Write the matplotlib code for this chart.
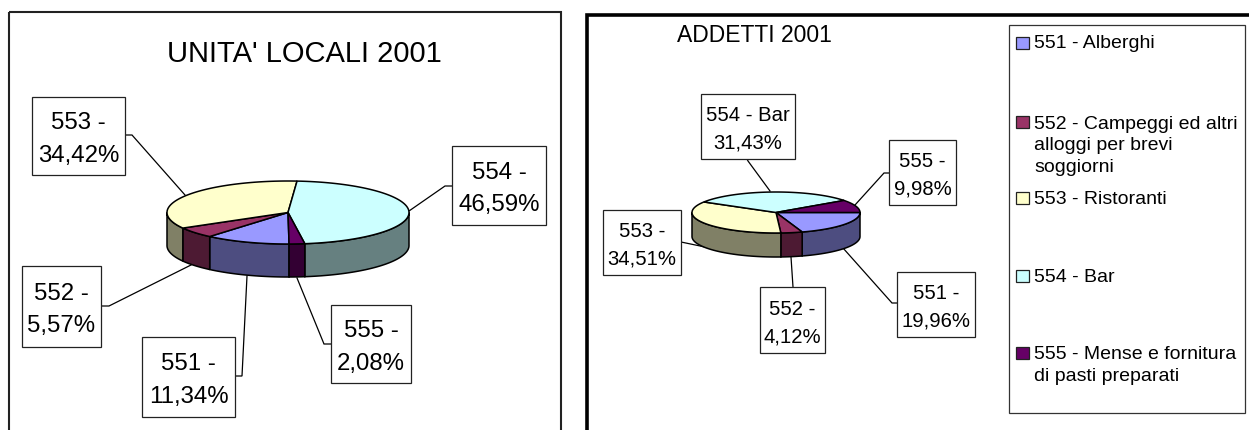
import numpy as np
import matplotlib
matplotlib.use('Agg')
import matplotlib.pyplot as plt
from matplotlib.patches import Polygon, Rectangle

plt.rcParams['font.family'] = ['Liberation Sans', 'DejaVu Sans']

codes = ['551', '552', '553', '554', '555']
unita_values = [11.34, 5.57, 34.42, 46.59, 2.08]
addetti_values = [19.96, 4.12, 34.51, 31.43, 9.98]
legend_labels = ['551 - Alberghi',
                 '552 - Campeggi ed altri\nalloggi per brevi\nsoggiorni',
                 '553 - Ristoranti',
                 '554 - Bar',
                 '555 - Mense e fornitura\ndi pasti preparati']
unita_labels = ['551 -\n11,34%', '552 -\n5,57%', '553 -\n34,42%', '554 -\n46,59%', '555 -\n2,08%']
addetti_labels = ['551 -\n19,96%', '552 -\n4,12%', '553 -\n34,51%', '554 - Bar\n31,43%', '555 -\n9,98%']

top_colors = ['#9999FF', '#993366', '#FFFFCC', '#CCFFFF', '#660066']
side_colors = ['#4D4D80', '#4D1A33', '#808066', '#668080', '#330033']

W, H = 1249, 430
fig = plt.figure(figsize=(W / 100, H / 100), dpi=100)
ax = fig.add_axes([0, 0, 1, 1])
ax.set_xlim(0, W)
ax.set_ylim(H, 0)
ax.axis('off')


def pie3d(values, cx, cy, rx, ry, depth, start):
    # angoli in senso orario dall'alto
    vals = np.array(values, dtype=float)
    edges = start + np.concatenate([[0], np.cumsum(vals) / vals.sum() * 360])
    pos = lambda a: (cx + rx * np.sin(np.radians(a)), cy - ry * np.cos(np.radians(a)))
    for i in range(len(vals)):
        a0, a1 = edges[i], edges[i + 1]
        # parte visibile del bordo: 90-270 (anche dopo un giro)
        for off in (0, 360):
            lo, hi = max(a0, 90 + off), min(a1, 270 + off)
            if hi <= lo:
                continue
            t = np.linspace(lo, hi, 60)
            x, y = pos(t)
            pts = np.r_[np.c_[x, y], np.c_[x[::-1], y[::-1] + depth]]
            ax.add_patch(Polygon(pts, closed=True, fc=side_colors[i], ec='black', lw=1.1, zorder=2))
    for i in range(len(vals)):
        t = np.linspace(edges[i], edges[i + 1], 80)
        x, y = pos(t)
        pts = np.r_[[[cx, cy]], np.c_[x, y]]
        ax.add_patch(Polygon(pts, closed=True, fc=top_colors[i], ec='black', lw=1.1, zorder=3))


def box_label(text, x0, y0, x1, y1, leader, size, spacing=1.55, shift=3):
    ax.plot(*zip(*leader), color='black', lw=0.9, zorder=1, solid_joinstyle='miter')
    ax.add_patch(Rectangle((x0, y0), x1 - x0, y1 - y0, fc='white', ec='#222222', lw=0.9, zorder=4))
    ax.text((x0 + x1) / 2, (y0 + y1) / 2 + shift, text, ha='center', va='center', fontsize=size,
            linespacing=spacing, color='black', zorder=5)


# cornici
ax.add_patch(Rectangle((9, 11.5), 552, 440, fc='none', ec='#222222', lw=1.5, clip_on=True))
ax.plot([1249, 587.5, 587.5], [15, 15, 430], color='black', lw=2.6, solid_joinstyle='miter')

# grafico sinistro
ax.text(304, 54, "UNITA' LOCALI 2001", ha='center', va='center', fontsize=21)
pie3d(unita_values, 288, 212.5, 121, 31.5, 33, 179.5)
size_l = 17.3
box_label(unita_labels[2], 32, 97, 125, 175, [(125, 135), (132, 135), (185, 195)], size_l, 1.63, 3.5)
box_label(unita_labels[3], 452, 146, 546, 225, [(452, 186), (445, 186), (409, 211)], size_l, 1.63, 3.5)
box_label(unita_labels[1], 22, 266, 101, 347, [(101, 306), (109, 306), (191, 265)], size_l, 1.63, 3.5)
box_label(unita_labels[0], 142, 337, 235, 417, [(235, 376), (242, 376), (247, 276)], size_l, 1.63, 3.5)
box_label(unita_labels[4], 331, 305, 411, 383, [(331, 344), (324, 344), (297, 278)], size_l, 1.63, 3.5)

# grafico destro
ax.text(677, 36, "ADDETTI 2001", ha='left', va='center', fontsize=16.5)
pie3d(addetti_values, 776, 212.5, 84, 20.5, 24, 90)
size_r = 14.6
box_label(addetti_labels[3], 701, 94, 795, 159, [(747, 159), (748, 161), (770, 191)], size_r)
box_label(addetti_labels[2], 603, 210, 681, 275, [(681, 242), (705, 247)], size_r)
box_label(addetti_labels[1], 760, 287, 825, 353, [(793, 287), (791, 257)], size_r)
box_label(addetti_labels[0], 897, 272, 975, 337, [(897, 303), (892, 303), (843, 248)], size_r)
box_label(addetti_labels[4], 889, 140, 956, 205, [(889, 173), (884, 173), (855, 205)], size_r)

# legenda
ax.add_patch(Rectangle((1009, 24.5), 236, 388, fc='white', ec='#333333', lw=0.9, zorder=4))
legend_y = [43, 122, 198, 276, 353]
line_h = 23
for lab, col, y in zip(legend_labels, top_colors, legend_y):
    n = lab.count('\n')
    ax.add_patch(Rectangle((1016, y - 6), 13.5, 12, fc=col, ec='#222222', lw=0.9, zorder=5))
    ax.text(1034, y + 1 + n * line_h / 2, lab, ha='left', va='center', fontsize=14, linespacing=1.33, zorder=5)

fig.savefig('out.png', dpi=100)
